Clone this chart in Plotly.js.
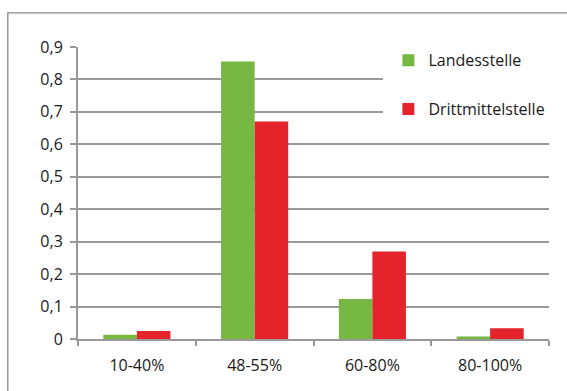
<!DOCTYPE html>
<html>
<head>
<meta charset="utf-8">
<script src="https://cdn.plot.ly/plotly-3.0.1.min.js"></script>
<style>
  html, body { margin: 0; padding: 0; background: #fff; }
  #chart { width: 567px; height: 391px; }
</style>
</head>
<body>
<div id="chart"></div>
<script>
// Anteile je Stellenumfang
const categories = ['10-40%', '48-55%', '60-80%', '80-100%'];
const landesstelle = [0.013, 0.855, 0.123, 0.008];
const drittmittelstelle = [0.025, 0.67, 0.27, 0.033];
const seriesNames = ['Landesstelle', 'Drittmittelstelle'];

const FONT = '"Open Sans", Lato, sans-serif';
const GRID = '#999999';

const traces = [
  {
    type: 'bar', name: seriesNames[0], x: categories, y: landesstelle,
    marker: { color: '#77b843' }, legendgroup: 'a', hoverinfo: 'x+y'
  },
  {
    type: 'bar', name: seriesNames[1], x: categories, y: drittmittelstelle,
    marker: { color: '#e5232b' }, legendgroup: 'b', hoverinfo: 'x+y'
  }
];

const layout = {
  width: 567, height: 391,
  margin: { l: 78, r: 17, t: 47, b: 52 },
  paper_bgcolor: '#ffffff', plot_bgcolor: '#ffffff',
  separators: ', ',
  font: { family: FONT, size: 16, color: '#1a1a1a' },
  barmode: 'group', bargap: 0.43, bargroupgap: 0,
  xaxis: {
    type: 'category', tickson: 'boundaries', ticks: 'outside', ticklen: 5,
    tickwidth: 2, tickcolor: GRID, showline: true, linecolor: GRID, linewidth: 2,
    showgrid: false, ticklabelstandoff: 11, fixedrange: true
  },
  yaxis: {
    range: [0, 0.9], dtick: 0.1, tick0: 0, ticks: 'outside', ticklen: 6,
    tickwidth: 2, tickcolor: GRID, showline: true, linecolor: GRID, linewidth: 2,
    showgrid: true, gridcolor: GRID, gridwidth: 2, zeroline: false,
    ticklabelstandoff: 4, fixedrange: true
  },
  legend: {
    x: 0.647, xanchor: 'left', y: 1.03, yanchor: 'top',
    bgcolor: '#ffffff', bordercolor: '#ffffff', borderwidth: 5,
    traceorder: 'grouped', tracegroupgap: 25,
    font: { family: FONT, size: 16, color: '#1a1a1a' }
  },
  shapes: [
    {
      type: 'rect', xref: 'paper', yref: 'paper',
      x0: -0.149, x1: 1.2, y0: -0.4, y1: 1.117,
      line: { color: '#888888', width: 1.3 }, fillcolor: 'rgba(0,0,0,0)', layer: 'below'
    }
  ]
};

Plotly.newPlot('chart', traces, layout, { displayModeBar: false, staticPlot: true });
</script>
</body>
</html>
